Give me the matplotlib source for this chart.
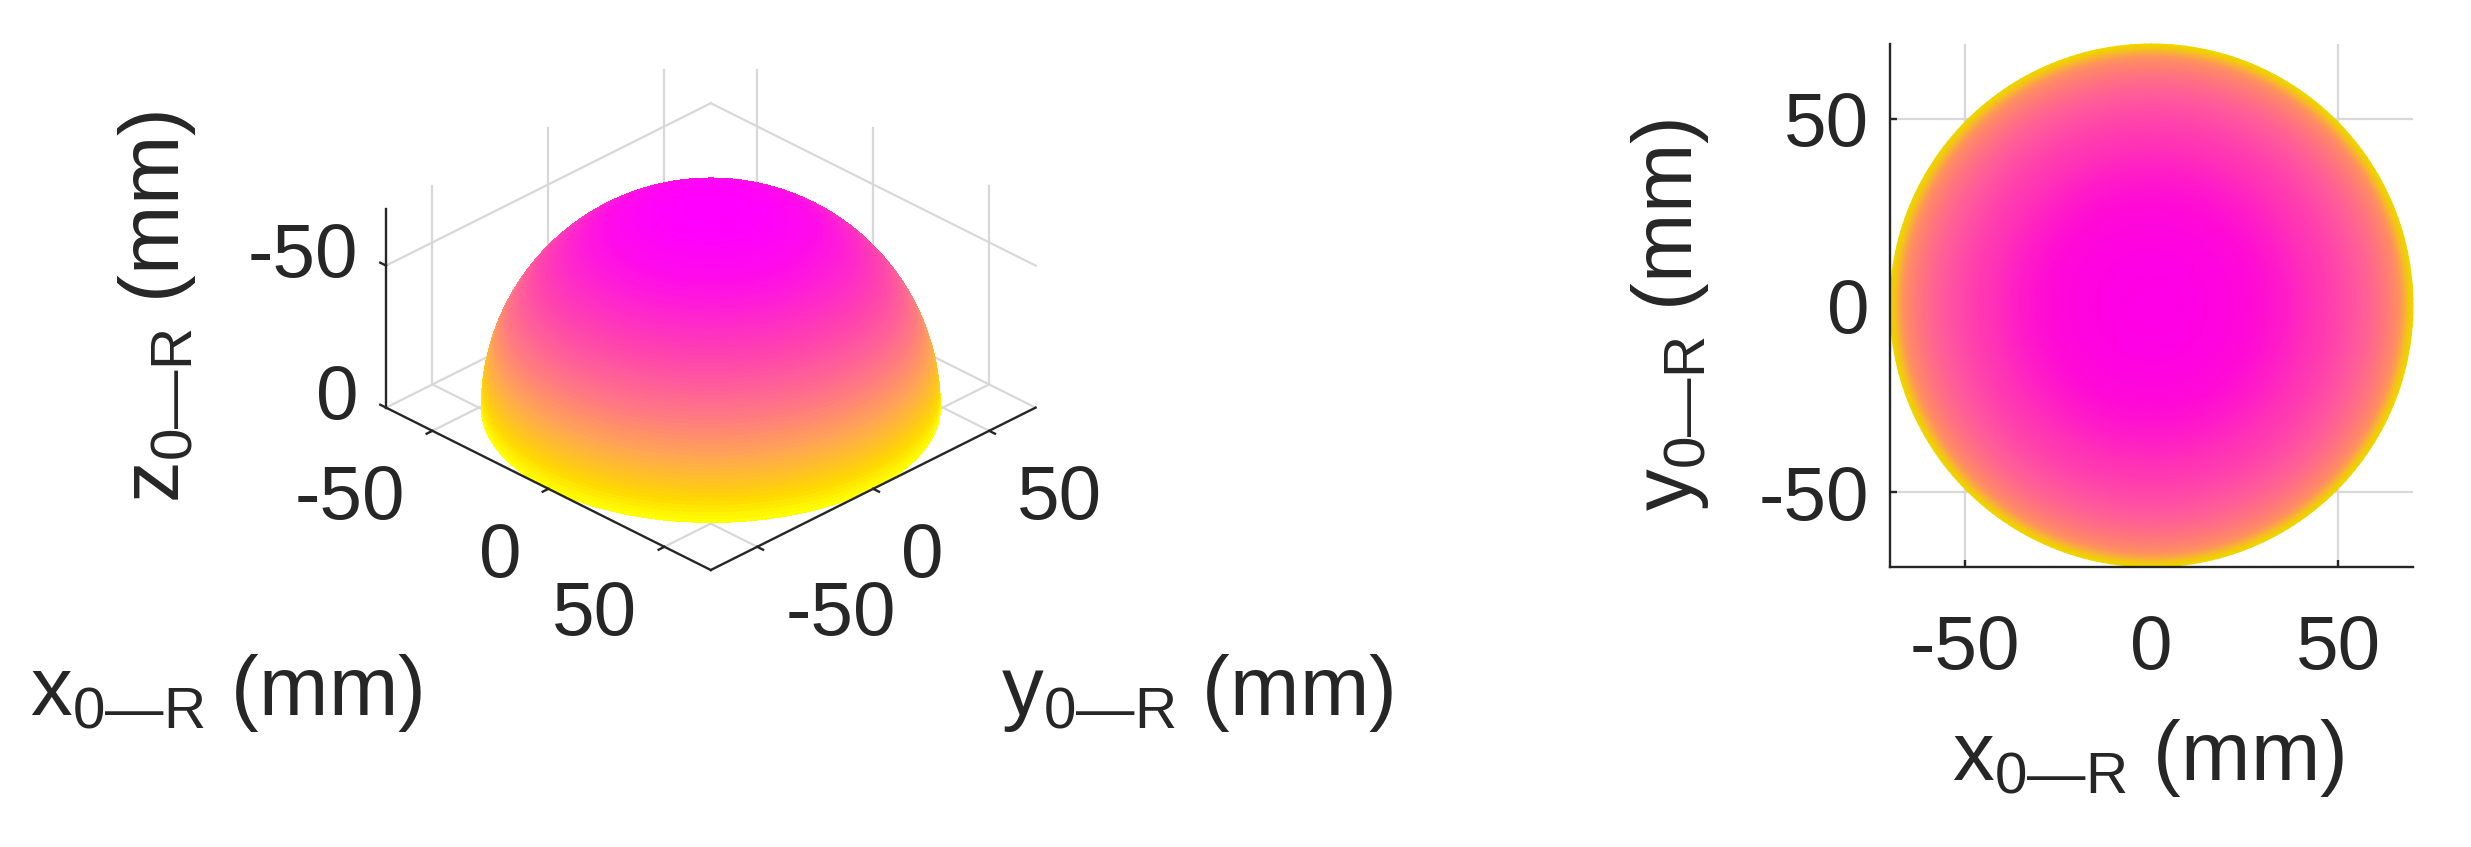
import numpy as np
import matplotlib
matplotlib.use('Agg')
import matplotlib.pyplot as plt
from matplotlib.colors import LinearSegmentedColormap
from mpl_toolkits.mplot3d import proj3d

W, H = 2471, 847

plt.rcParams['font.family'] = ['Liberation Sans', 'DejaVu Sans']
plt.rcParams['mathtext.fontset'] = 'custom'
plt.rcParams['mathtext.rm'] = 'Liberation Sans'
plt.rcParams['mathtext.fallback'] = 'stixsans'
plt.rcParams['axes.unicode_minus'] = False

# values
radius = 70
ax_lim = [-70, 70]
xy_ticks = [-50, 0, 50]
z_lim = [0, -70]
z_ticks = [-50, 0]

# colour against height of the dome (0 = rim, 1 = pole)
dome_pos = [0.0, 0.10, 0.30, 0.50, 0.70, 0.90, 1.0]
dome_col = ['#ffff00', '#ffd800', '#ffa455', '#ff6e8c', '#ff3cb4', '#ff0aeb', '#ff00ff']
disk_pos = [0.0, 0.15, 0.22, 0.32, 0.60, 0.80, 0.93, 1.0]
disk_col = ['#f0d400', '#f0d000', '#f8b830', '#ff9060', '#ff5a9c', '#ff30b8', '#ff08d8', '#ff00e6']

dark = '#262626'
grid = '#d8d8d8'
fs = 55
fs_label = 60

cm_dome = LinearSegmentedColormap.from_list('dome', list(zip(dome_pos, dome_col)))
cm_disk = LinearSegmentedColormap.from_list('disk', list(zip(disk_pos, disk_col)))

fig = plt.figure(figsize=(W / 100, H / 100), dpi=100, facecolor='white')

# ---- left: 3D hemisphere
side = 800
ax = fig.add_axes([(700 - side / 2) / W, 1 - (319 + side / 2) / H, side / W, side / H],
                  projection='3d', computed_zorder=False)
ax.set_proj_type('ortho')
ax.view_init(elev=30, azim=-45)
ax.set_xlim(ax_lim)
ax.set_ylim(ax_lim)
ax.set_zlim(z_lim)
ax.set_box_aspect((140, 140, 70), zoom=0.836)
ax.set_axis_off()
ax.patch.set_alpha(0)

lo, hi = ax_lim
ztop = z_lim[1]

# back walls and floor grid
for v in xy_ticks:
    ax.plot([lo, lo], [v, v], [0, ztop], color=grid, lw=1.6, zorder=1)
    ax.plot([v, v], [hi, hi], [0, ztop], color=grid, lw=1.6, zorder=1)
    ax.plot([v, v], [lo, hi], [0, 0], color=grid, lw=1.6, zorder=1)
    ax.plot([lo, hi], [v, v], [0, 0], color=grid, lw=1.6, zorder=1)
for z in z_ticks:
    ax.plot([lo, lo], [lo, hi], [z, z], color=grid, lw=1.6, zorder=1)
    ax.plot([lo, hi], [hi, hi], [z, z], color=grid, lw=1.6, zorder=1)

# the dome
theta = np.linspace(0, 2 * np.pi, 241)
phi = np.linspace(0, np.pi / 2, 91)
T, P = np.meshgrid(theta, phi)
X = radius * np.cos(P) * np.cos(T)
Y = radius * np.cos(P) * np.sin(T)
Z = -radius * np.sin(P)
ax.plot_surface(X, Y, Z, facecolors=cm_dome(-Z / radius), rstride=1, cstride=1,
                linewidth=0, antialiased=False, shade=False, zorder=2)

# axis lines and ticks
ax.plot([lo, hi], [lo, lo], [0, 0], color=dark, lw=1.7, zorder=3)
ax.plot([hi, hi], [lo, hi], [0, 0], color=dark, lw=1.7, zorder=3)
ax.plot([lo, lo], [lo, lo], [0, ztop], color=dark, lw=1.7, zorder=3)
tick = 2.5
for v in xy_ticks:
    ax.plot([v, v], [lo, lo - tick], [0, 0], color=dark, lw=1.7, zorder=3)
    ax.plot([hi, hi + tick], [v, v], [0, 0], color=dark, lw=1.7, zorder=3)
for z in z_ticks:
    ax.plot([lo, lo - tick], [lo, lo], [z, z], color=dark, lw=1.7, zorder=3)


def label3d(txt, x, y, z, dx, dy, ha):
    px, py, _ = proj3d.proj_transform(x, y, z, ax.get_proj())
    ax.annotate(txt, (px, py), xytext=(dx, dy), textcoords='offset pixels',
                ha=ha, va='center', fontsize=fs, color=dark, annotation_clip=False)


for v in xy_ticks:
    label3d(str(v), v, lo, 0, -27, -69, 'right')
    label3d(str(v), hi, v, 0, 28, -69, 'left')
for z in z_ticks:
    label3d(str(z), lo, lo, z, -28, 8, 'right')

# ---- right: view from above
ax2 = fig.add_axes([1890 / W, 1 - 567 / H, (2413 - 1890) / W, (567 - 44) / H])
r = np.linspace(0, radius, 120)
T2, R2 = np.meshgrid(theta, r)
D = np.sqrt(1 - (R2 / radius) ** 2)
ax2.grid(True, color=grid, lw=1.6, zorder=0)
ax2.set_axisbelow(True)
ax2.pcolormesh(R2 * np.cos(T2), R2 * np.sin(T2), D, cmap=cm_disk, vmin=0, vmax=1,
               shading='gouraud', zorder=2, clip_on=False)
ax2.set_xlim(ax_lim)
ax2.set_ylim(ax_lim)
ax2.set_xticks(xy_ticks)
ax2.set_yticks(xy_ticks)
ax2.tick_params(direction='in', length=5, width=1.7, color=dark, labelcolor=dark,
                labelsize=fs)
ax2.tick_params(axis='x', pad=34)
ax2.tick_params(axis='y', pad=15)
for s in ['top', 'right']:
    ax2.spines[s].set_visible(False)
for s in ['left', 'bottom']:
    ax2.spines[s].set_color(dark)
    ax2.spines[s].set_linewidth(1.7)
    ax2.spines[s].set_zorder(4)

# ---- axis titles
xlab = r'x$_{\mathrm{0—R}}$ (mm)'
ylab = r'y$_{\mathrm{0—R}}$ (mm)'
zlab = r'z$_{\mathrm{0—R}}$ (mm)'


def ftext(txt, x, y, rot=0):
    fig.text(x / W, 1 - y / H, txt, ha='center', va='center', rotation=rot,
             fontsize=fs_label, color=dark)


ftext(xlab, 226, 693)
ftext(ylab, 1197, 693)
ftext(zlab, 157, 307, 90)
ftext(ylab, 1670, 315, 90)
ftext(xlab, 2148, 758)

fig.savefig('out.png', dpi=100)
